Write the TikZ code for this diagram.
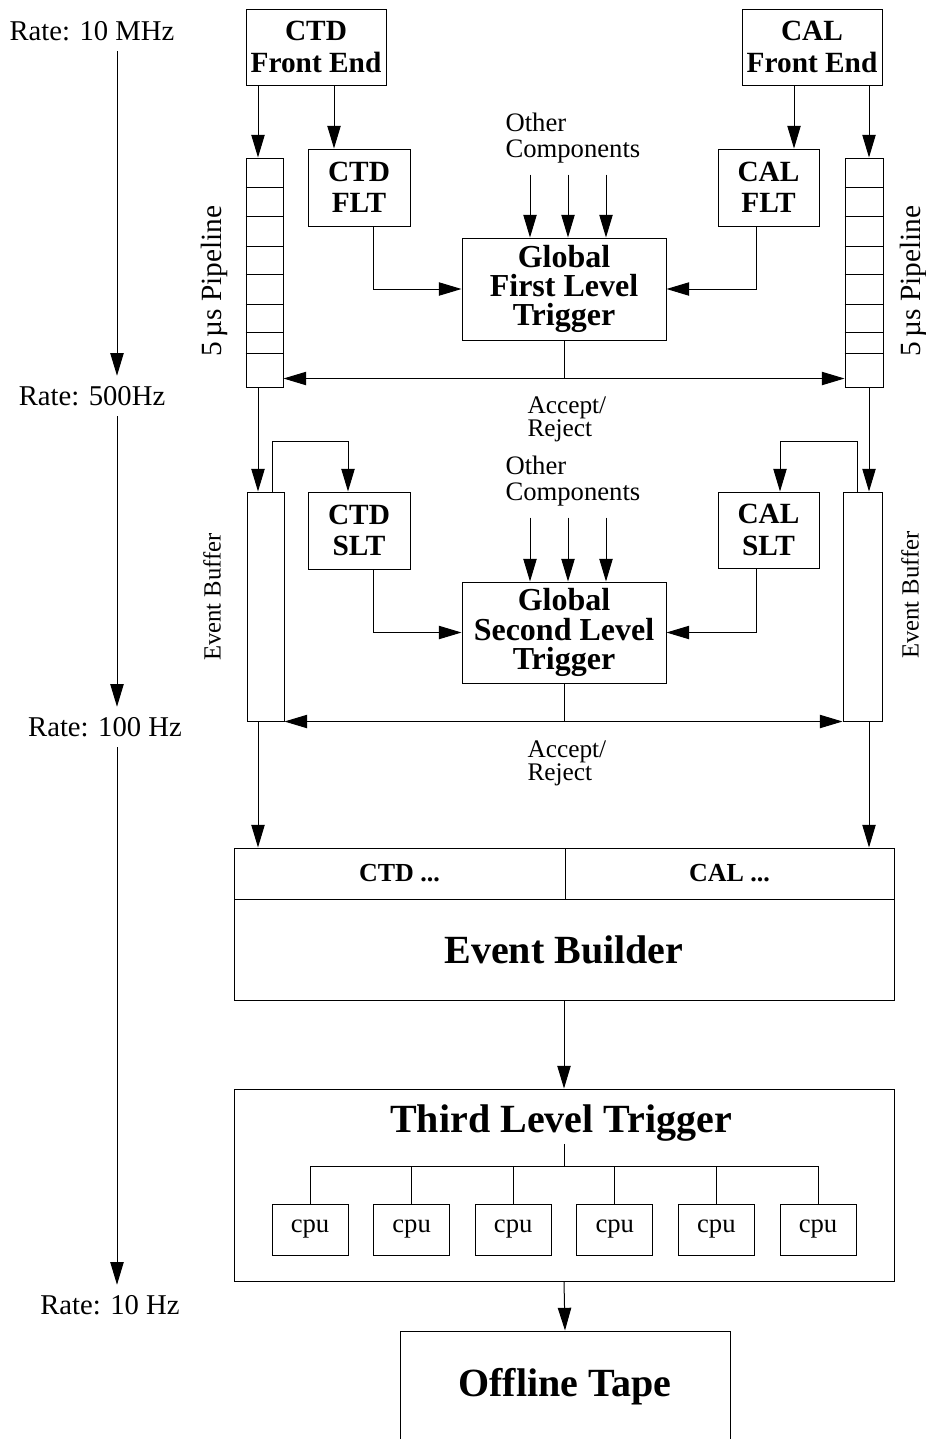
\documentclass[tikz,border=0pt]{standalone}
\usepackage{fontspec}
\setmainfont{Liberation Serif}
\usetikzlibrary{arrows.meta,calc,positioning}
\newcommand{\setfs}[2]{\fontsize{#1}{#2}\selectfont\lineskiplimit=-100pt\lineskip=0pt}
\tikzset{
  sz/.style 2 args={minimum width=#1*0.75pt,minimum height=#2*0.75pt},
  blk/.style={draw,inner sep=0pt,align=center,font=\setfs{22}{23.5}\bfseries},
  big/.style={font=\setfs{24}{22}\bfseries},
  ttl/.style={font=\setfs{30}{32}\bfseries},
  hdr/.style={font=\setfs{19.5}{21}\bfseries},
  rate/.style={inner sep=7.5pt,font=\setfs{21.5}{24}},
  small/.style={inner sep=0pt,align=left,font=\setfs{20}{19.5}},
  acc/.style={inner sep=0pt,align=left,font=\setfs{19}{17.5}},
  cpubox/.style={draw,inner sep=0pt,sz={76}{51},font=\setfs{20}{22}},
  arr/.style={-{Triangle[length=17pt,width=10pt]}}
}
\begin{document}
\begin{tikzpicture}[x=0.75pt,y=-0.75pt,line width=0.75pt]
  \useasboundingbox (0,0) rectangle (925,1439);
  % columns of the data paths
  \coordinate (ratecol) at (117,0);
  \coordinate (lcol) at (258,0);
  \coordinate (rcol) at (869,0);
  \coordinate (lfeed) at (334,0);
  \coordinate (rfeed) at (794,0);

  % rates down the left side
  \node[rate] (r1) at (92,31) {Rate: 10 MHz};
  \node[rate] (r2) at (92,396) {Rate: 500Hz};
  \node[rate] (r3) at (105,727) {Rate: 100 Hz};
  \node[rate] (r4) at (110,1305) {Rate: 10 Hz};
  \draw[arr] (r1.south -| ratecol) -- (r2.north -| ratecol);
  \draw[arr] (r2.south -| ratecol) -- (r3.north -| ratecol);
  \draw[arr] (r3.south -| ratecol) -- (r4.north -| ratecol);

  % front ends and first level
  \node[blk,sz={140}{76}] (ctdfe) at (316,47) {CTD\\Front End};
  \node[blk,sz={140}{76}] (calfe) at (812,47) {CAL\\Front End};
  \node[blk,sz={102}{77}] (ctdflt) at (359,187.5) {CTD\\FLT};
  \node[blk,sz={101}{77}] (calflt) at (768.5,187.5) {CAL\\FLT};
  \node[blk,big,sz={204}{102}] (gflt) at (564,289) {Global\\First Level\\Trigger};
  \node[small,anchor=west] (oth1) at (505,138) {Other\\Components};

  % 5 us pipelines
  \node[draw,inner sep=0pt,sz={37}{229}] (lpipe) at (264.5,272.5) {};
  \node[draw,inner sep=0pt,sz={38}{229}] (rpipe) at (864,272.5) {};
  \foreach \dy in {30,59,89,117,147,175,196} {
    \draw ($(lpipe.north west)+(0,\dy)$) -- ($(lpipe.north east)+(0,\dy)$);
    \draw ($(rpipe.north west)+(0,\dy)$) -- ($(rpipe.north east)+(0,\dy)$);
  }
  \node[inner sep=0pt,rotate=90,font=\setfs{22}{24}] (lplab) at (214,281) {5\,µs Pipeline};
  \node[inner sep=0pt,rotate=90,font=\setfs{22}{24}] (rplab) at (913,281) {5\,µs Pipeline};

  \draw[arr] (ctdfe.south -| lcol) -- (lpipe.north -| lcol);
  \draw[arr] (calfe.south -| rcol) -- (rpipe.north -| rcol);
  \draw[arr] (ctdfe.south -| lfeed) -- (ctdflt.north -| lfeed);
  \draw[arr] (calfe.south -| rfeed) -- (calflt.north -| rfeed);
  \draw[arr] ($(ctdflt.south)+(14,0)$) |- (gflt.west);
  \draw[arr] ($(calflt.south)+(-12.5,0)$) |- (gflt.east);
  \foreach \dx in {-34,4,42}
    \draw[arr] ($(gflt.north)+(\dx,-63)$) -- ($(gflt.north)+(\dx,0)$);

  % first level accept/reject
  \coordinate (acc1) at ($(gflt.south)+(0,38)$);
  \draw (gflt.south) -- (acc1);
  \draw[arr] (acc1) -- (acc1 -| lpipe.east);
  \draw[arr] (acc1) -- (acc1 -| rpipe.west);
  \node[acc,anchor=west] (acctxt1) at (527,419) {Accept/\\Reject};

  % second level
  \node[draw,inner sep=0pt,sz={37}{229}] (lbuf) at (265.5,606.5) {};
  \node[draw,inner sep=0pt,sz={39}{229}] (rbuf) at (862.5,606.5) {};
  \node[inner sep=0pt,rotate=90,font=\setfs{18.5}{20}] (lblab) at (212,597) {Event Buffer};
  \node[inner sep=0pt,rotate=90,font=\setfs{18.5}{20}] (rblab) at (910,595) {Event Buffer};
  \node[blk,sz={102}{77}] (ctdslt) at (359,530.5) {CTD\\SLT};
  \node[blk,sz={101}{76}] (calslt) at (768.5,530) {CAL\\SLT};
  \node[blk,big,sz={204}{101}] (gslt) at (564,632.5) {Global\\Second Level\\Trigger};
  \node[small,anchor=west] (oth2) at (505,481) {Other\\Components};

  \draw[arr] (lpipe.south -| lcol) -- (lbuf.north -| lcol);
  \draw[arr] (rpipe.south -| rcol) -- (rbuf.north -| rcol);
  \draw[arr] ($(lbuf.north)+(6.5,0)$) -- ++(0,-50) -| ($(ctdslt.north)+(-11,0)$);
  \draw[arr] ($(rbuf.north)+(-5.5,0)$) -- ++(0,-50) -| ($(calslt.north)+(11.5,0)$);
  \draw[arr] ($(ctdslt.south)+(14,0)$) |- (gslt.west);
  \draw[arr] ($(calslt.south)+(-12.5,0)$) |- (gslt.east);
  \foreach \dx in {-34,4,42}
    \draw[arr] ($(gslt.north)+(\dx,-64)$) -- ($(gslt.north)+(\dx,0)$);

  % second level accept/reject
  \coordinate (acc2) at (gslt.south |- lbuf.south);
  \draw (gslt.south) -- (acc2);
  \draw[arr] (acc2) -- (lbuf.south east);
  \draw[arr] (acc2) -- (rbuf.south west);
  \node[acc,anchor=west] (acctxt2) at (527,763) {Accept/\\Reject};

  % event builder
  \node[blk,hdr,sz={331}{51}] (ctdhdr) at (399.5,873.5) {CTD ...};
  \node[blk,hdr,sz={329}{51}] (calhdr) at (729.5,873.5) {CAL ...};
  \node[blk,ttl,sz={660}{101}] (evb) at (564,949.5) {Event Builder};
  \draw[arr] (lbuf.south -| lcol) -- (ctdhdr.north -| lcol);
  \draw[arr] (rbuf.south -| rcol) -- (calhdr.north -| rcol);

  % third level farm
  \node[draw,inner sep=0pt,sz={660}{192}] (tlt) at (564,1185) {};
  \node[ttl,inner sep=1.5pt] (tlttitle) at (561,1123) {Third Level Trigger};
  \draw[arr] (evb.south) -- (tlt.north);
  \coordinate (bus) at (564,1166);
  \foreach \i in {1,...,6}
    \node[cpubox] (cpu\i) at ({310+101.6*(\i-1)},1229.5) {cpu};
  \draw (tlttitle.south -| bus) -- (bus);
  \draw (cpu1.north |- bus) -- (cpu6.north |- bus);
  \foreach \i in {1,...,6}
    \draw (cpu\i.north |- bus) -- (cpu\i.north);

  % tape
  \node[blk,ttl,sz={330}{112}] (offline) at (565,1387) {Offline Tape};
  \draw[arr] (tlt.south) -- (offline.north);
\end{tikzpicture}
\end{document}
